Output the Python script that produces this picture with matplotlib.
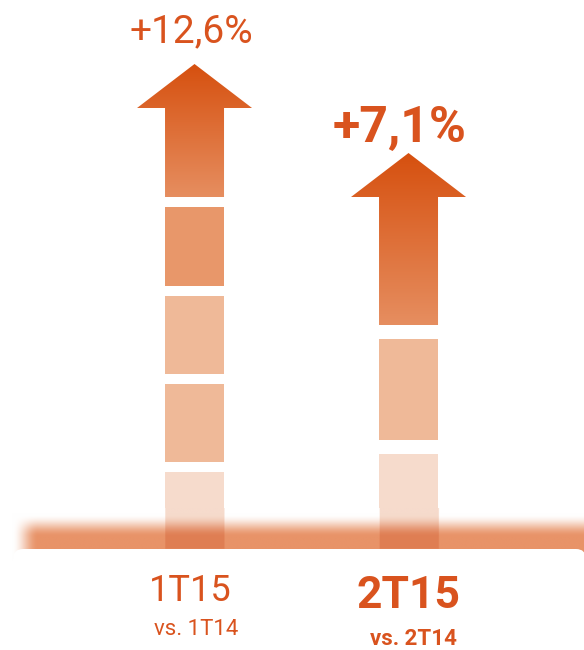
import numpy as np
import matplotlib.pyplot as plt
from matplotlib.patches import Polygon, FancyBboxPatch
from matplotlib.colors import to_rgb

# ---- data -------------------------------------------------------------
periods = ["1T15", "2T15"]
comparisons = ["vs. 1T14", "vs. 2T14"]
growth_labels = ["+12,6%", "+7,1%"]

# stacked blocks from the base up (bottom -> top), then the arrow on top
blocks_1t15 = [77, 78, 78, 79]
blocks_2t15 = [95, 101]
arrow_len = [133, 172]
block_gaps = [10, 14]

shades_1t15 = ["#F6DBCC", "#EFB998", "#EFB998", "#E8976A"]
shades_2t15 = ["#F6DBCC", "#EFB998"]

# ---- style ------------------------------------------------------------
plt.rcParams['font.family'] = ['Roboto', 'DejaVu Sans']
ORANGE = "#D9531E"
ARROW_TOP = "#D6500F"
ARROW_BOT = "#E68E60"
BAND = np.array([232, 147, 104]) / 255.0
BW = 59 / 214       # block / shaft width (x units)
HW = 115 / 214      # arrow head width
HEAD = 44           # arrow head length

fig = plt.figure(figsize=(5.84, 6.5), dpi=100)
ax = fig.add_axes([0, 0, 1, 1])
ax.axis('off')
XL, XR = -0.909, 1.820
ax.set_xlim(XL, XR)
ax.set_ylim(-101, 549)

columns = [(blocks_1t15, shades_1t15), (blocks_2t15, shades_2t15)]
bottom_block_col = []
for i, (heights, shades) in enumerate(columns):
    base = 0
    for h, c in zip(heights, shades):
        ax.bar(i, h, bottom=base, width=BW, color=c, zorder=2, linewidth=0)
        base += h + block_gaps[i]
    bottom_block_col.append(to_rgb(shades[0]))

    # gradient arrow
    y0 = base
    tip = y0 + arrow_len[i]
    y1 = tip - HEAD
    verts = [(i - BW / 2, y0), (i + BW / 2, y0), (i + BW / 2, y1),
             (i + HW / 2, y1), (i, tip), (i - HW / 2, y1), (i - BW / 2, y1)]
    poly = Polygon(verts, closed=True, fc='none', ec='none')
    ax.add_patch(poly)
    t = np.linspace(0, 1, 256)[:, None, None]
    grad = (1 - t) * np.array(to_rgb(ARROW_BOT)) + t * np.array(to_rgb(ARROW_TOP))
    im = ax.imshow(grad, origin='lower', aspect='auto',
                   extent=(i - HW / 2, i + HW / 2, y0, tip), zorder=3)
    im.set_clip_path(poly)

# ---- soft base band (multiplied over the bottom blocks) -----------------
bx0, bx1 = XL + 12 / 214, XR
by0, by1 = -12, 40
nx, ny = 1200, 104
xs = np.linspace(bx0, bx1, nx)
ys = np.linspace(by0, by1, ny)
X, Y = np.meshgrid(xs, ys)
tv = np.clip((34 - Y) / 22, 0, 1)
av = tv * tv * (3 - 2 * tv)
xpx = (X - XL) * 214
th = np.clip((xpx - 12) / 26, 0, 1)
ah = th * th * (3 - 2 * th)
alpha = av * ah
baseimg = np.ones((ny, nx, 3))
for i, col in enumerate(bottom_block_col):
    mask = (np.abs(X - i) <= BW / 2) & (Y >= 0)
    baseimg[mask] = col
mult = 1 - alpha[..., None] * (1 - BAND[None, None, :])
band_img = baseimg * mult
ax.imshow(band_img, origin='lower', aspect='auto', interpolation='bilinear',
          extent=(bx0, bx1, by0, by1), zorder=3.5)

# white panel under the band
r = 10 / 214
panel = FancyBboxPatch((XL + 13 / 214, -140), (586 - 13) / 214, 140,
                       boxstyle=f"round,pad=0,rounding_size={r}",
                       mutation_aspect=214, fc='white', ec='none', zorder=4)
ax.add_patch(panel)

ax.set_xlim(XL, XR)
ax.set_ylim(-101, 549)

# ---- text -------------------------------------------------------------
ax.text(-0.014, 507, growth_labels[0], ha='center', va='baseline',
        fontsize=28, color=ORANGE, zorder=5)
ax.text(0.958, 407, growth_labels[1], ha='center', va='baseline',
        fontsize=36, fontweight='bold', color=ORANGE, zorder=5)
ax.text(-0.021, -52, periods[0], ha='center', va='baseline',
        fontsize=26, color=ORANGE, zorder=5)
ax.text(0.009, -86, comparisons[0], ha='center', va='baseline',
        fontsize=16, color=ORANGE, zorder=5)
ax.text(1.0, -59, periods[1], ha='center', va='baseline',
        fontsize=32, fontweight='bold', color=ORANGE, zorder=5)
ax.text(1.021, -96, comparisons[1], ha='center', va='baseline',
        fontsize=16, fontweight='bold', color=ORANGE, zorder=5)

fig.savefig("out.png", dpi=100)
